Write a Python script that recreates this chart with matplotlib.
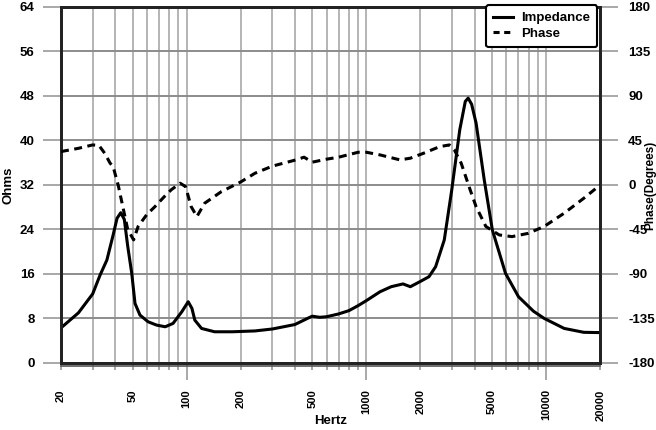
import matplotlib
matplotlib.use("Agg")
import matplotlib.pyplot as plt
from matplotlib.ticker import FixedLocator, FixedFormatter
from matplotlib.lines import Line2D

plt.rcParams['font.family'] = ['Liberation Sans', 'DejaVu Sans']
plt.rcParams['font.weight'] = 'bold'
plt.rcParams['axes.unicode_minus'] = False

# Impedance curve (Hz, Ohms)
imp_freq = [20, 25, 30, 33, 36, 39, 41, 43, 45, 47, 49.5, 51.6, 55, 61, 68, 76, 84,
            94, 102, 107, 111, 121, 143, 180, 240, 300, 400, 470, 500, 550, 600,
            700, 800, 900, 1000, 1192, 1374, 1599, 1756, 1984, 2230, 2428, 2712,
            2985, 3307, 3550, 3682, 3850, 4077, 4526, 5021, 5943, 7018, 8500,
            9756, 12600, 16200, 20000]
imp_ohms = [6.3, 9.0, 12.4, 15.8, 18.5, 23.0, 26.0, 27.0, 25.8, 21.0, 16.1, 10.7, 8.6,
            7.4, 6.8, 6.5, 7.1, 9.2, 11.0, 9.8, 7.7, 6.2, 5.6, 5.6, 5.75, 6.1, 6.9,
            8.0, 8.4, 8.2, 8.3, 8.8, 9.4, 10.3, 11.2, 12.8, 13.7, 14.2, 13.7, 14.6,
            15.5, 17.3, 22.1, 31.1, 41.9, 47.0, 47.6, 46.5, 43.1, 32.9, 23.9, 16.1,
            11.9, 9.3, 8.0, 6.2, 5.5, 5.45]

# Phase curve (Hz, degrees)
ph_freq = [20, 25, 30, 32.5, 35, 37.5, 39, 41.7, 44.5, 47, 50.7, 53.7, 60, 66.6, 75,
           82, 92, 98.6, 106, 114, 126, 156, 200, 240, 300, 400, 450, 500, 600, 700,
           900, 1000, 1192, 1538, 1756, 2080, 2558, 2895, 3086, 3367, 3779, 4077,
           4619, 5483, 6452, 7944, 9756, 12600, 16200, 20000]
ph_deg = [33.7, 37.0, 40.4, 40.0, 32.0, 22.0, 18.5, -1.0, -25.0, -45.0, -55.6, -42.0,
          -30.0, -22.0, -12.0, -5.0, 1.7, -1.7, -22.0, -32.0, -18.5, -6.8, 3.0, 11.8,
          19.0, 25.0, 28.0, 23.0, 26.0, 28.0, 33.0, 33.0, 30.3, 25.3, 27.0, 32.0,
          38.7, 40.4, 35.4, 22.0, -5.0, -22.0, -42.0, -50.6, -52.3, -49.0, -42.0,
          -28.6, -13.5, 0.0]

grid_freqs = [20, 30, 40, 50, 60, 70, 80, 90, 100, 200, 300, 400, 500, 600, 700,
              800, 900, 1000, 2000, 3000, 4000, 5000, 6000, 7000, 8000, 9000,
              10000, 20000]
decade_ticks = [100, 1000, 10000]
minor_labels = {20: "20", 50: "50", 200: "200", 500: "500", 2000: "2000",
                5000: "5000", 20000: "20000"}
ohm_ticks = [0, 8, 16, 24, 32, 40, 48, 56, 64]
phase_ticks = [-180, -135, -90, -45, 0, 45, 90, 135, 180]

fig = plt.figure(figsize=(6.56, 4.30), dpi=100)
ax = fig.add_axes([0.093, 0.156, 0.822, 0.828])
ax.set_xscale('log')
ax.set_xlim(20, 20000)
ax.set_ylim(0, 64)

for f in grid_freqs:
    ax.axvline(f, color='#a8a8a8', lw=1.2, zorder=0)
for t in ohm_ticks:
    ax.axhline(t, color='#8c8c8c', lw=1.4, zorder=0)

ax.xaxis.set_major_locator(FixedLocator(decade_ticks))
ax.xaxis.set_major_formatter(FixedFormatter([str(v) for v in decade_ticks]))
minor_pos = [f for f in grid_freqs if f not in decade_ticks]
ax.xaxis.set_minor_locator(FixedLocator(minor_pos))
ax.xaxis.set_minor_formatter(FixedFormatter([minor_labels.get(f, "") for f in minor_pos]))
ax.tick_params(axis='x', which='major', length=12, width=1.2, color='#999999',
               labelsize=8, labelrotation=90, pad=7)
ax.tick_params(axis='x', which='minor', length=5, width=1.2, color='#999999',
               labelsize=8, labelrotation=90, pad=14)
for lbl in ax.get_xticklabels(which='both'):
    lbl.set_fontweight('bold')

ax.set_yticks(ohm_ticks)
ax.tick_params(axis='y', length=13, width=1.2, color='#999999', labelsize=9.5, pad=6)
for lbl in ax.get_yticklabels():
    lbl.set_fontweight('bold')

for s in ax.spines.values():
    s.set_linewidth(2.0)
    s.set_color('#222222')

ax.plot(imp_freq, imp_ohms, color='black', lw=2.2, solid_joinstyle='round', zorder=3)

ax.set_xlabel('Hertz', fontsize=9.5, fontweight='bold')
ax.xaxis.set_label_coords(0.5, -0.145)
ax.set_ylabel('Ohms', fontsize=9.5, fontweight='bold')
ax.yaxis.set_label_coords(-0.087, 0.5)

# second baseline just below the bottom frame
ax.add_line(Line2D([0, 1], [-0.009, -0.009], transform=ax.transAxes, color='#555555',
                   lw=1.2, clip_on=False))

ax2 = ax.twinx()
ax2.set_ylim(-180, 180)
ax2.set_yticks(phase_ticks)
ax2.tick_params(axis='y', length=13, width=1.2, color='#999999', labelsize=9.5, pad=7)
for lbl in ax2.get_yticklabels():
    lbl.set_fontweight('bold')
for s in ax2.spines.values():
    s.set_linewidth(2.0)
    s.set_color('#222222')
ax2.plot(ph_freq, ph_deg, color='black', lw=2.2, linestyle=(0, (2.6, 1.8)), zorder=3)
ax2.set_ylabel('Phase(Degrees)', fontsize=8.5, fontweight='bold', rotation=90)
ax2.yaxis.set_label_coords(1.081, 0.5)

handles = [Line2D([], [], color='black', lw=2.2),
           Line2D([], [], color='black', lw=2.2, linestyle=(0, (2.0, 1.5)))]
leg = ax2.legend(handles, ['Impedance', 'Phase'], loc='upper right',
                 bbox_to_anchor=(0.9944, 1.0056), borderaxespad=0, frameon=True,
                 fancybox=True, handlelength=1.5, handletextpad=0.6,
                 borderpad=0.55, labelspacing=0.25,
                 prop={'weight': 'bold', 'size': 9.5})
leg.get_frame().set_edgecolor('black')
leg.get_frame().set_linewidth(1.5)
leg.get_frame().set_alpha(1)

fig.savefig('out.png', dpi=100)
